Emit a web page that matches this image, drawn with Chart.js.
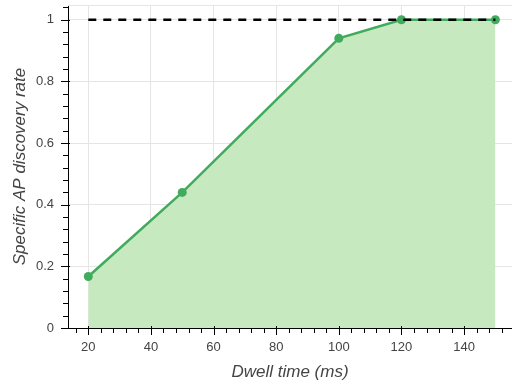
<!DOCTYPE html>
<html lang="en">
<head>
    <meta charset="UTF-8">
    <script src="https://cdn.jsdelivr.net/npm/chart.js"></script>
    <title>Specific AP discovery rate</title>
    <style>
        body { margin: 0; background: #fff; overflow: hidden; }
        canvas { display: block; }
    </style>
</head>
<body>
    <div>
        <canvas id="myChart" width="512" height="386"></canvas>
        <script>
            const dwellTimes = [20, 50, 100, 120, 150];
            const discoveryRate = [0.167, 0.44, 0.94, 1.0, 1.0];
            const referenceRate = 1;
            const xTicks = [20, 40, 60, 80, 100, 120, 140];
            const yTicks = [0, 0.2, 0.4, 0.6, 0.8, 1];

            const font = "'Liberation Sans', Arial, sans-serif";

            // no extra room for label overhang, the frame is fixed
            function noPad(scale) {
                scale.paddingTop = 0;
                scale.paddingBottom = 0;
                scale.paddingLeft = 0;
                scale.paddingRight = 0;
            }

            // bokeh-style frame outline plus major/minor tick marks
            const axisMarks = {
                id: 'axisMarks',
                beforeDatasetsDraw(chart) {
                    const {ctx, chartArea} = chart;
                    ctx.save();
                    ctx.strokeStyle = '#e5e5e5';
                    ctx.lineWidth = 1;
                    ctx.beginPath();
                    ctx.moveTo(chartArea.left, chartArea.top + 0.5);
                    ctx.lineTo(chartArea.right, chartArea.top + 0.5);
                    ctx.stroke();
                    ctx.restore();
                },
                afterDraw(chart) {
                    const {ctx, chartArea, scales} = chart;
                    const x = scales.x, y = scales.y;
                    ctx.save();
                    ctx.strokeStyle = '#000';
                    ctx.lineWidth = 1;
                    ctx.beginPath();
                    for (let v = 16; v <= x.max; v += 4) {
                        const px = Math.round(x.getPixelForValue(v)) + 0.5;
                        const major = v % 20 === 0;
                        ctx.moveTo(px, chartArea.bottom - (major ? 2 : 0));
                        ctx.lineTo(px, chartArea.bottom + (major ? 7 : 5));
                    }
                    for (let i = 0; i * 0.04 <= y.max; i++) {
                        const py = Math.round(y.getPixelForValue(i * 0.04)) + 0.5;
                        const major = i % 5 === 0;
                        ctx.moveTo(chartArea.left + (major ? 2 : 0), py);
                        ctx.lineTo(chartArea.left - (major ? 7 : 5), py);
                    }
                    ctx.stroke();
                    ctx.restore();
                }
            };

            const ctx = document.getElementById('myChart');
            const chart = new Chart(ctx, {
                type: 'line',
                data: {
                    datasets: [{
                        data: [{x: dwellTimes[0], y: referenceRate}, {x: dwellTimes[dwellTimes.length - 1], y: referenceRate}],
                        borderColor: '#000',
                        borderWidth: 2.5,
                        borderDash: [8, 7],
                        pointRadius: 0,
                        fill: false,
                        order: 0
                    }, {
                        data: dwellTimes.map((t, i) => ({x: t, y: discoveryRate[i]})),
                        borderColor: '#41ab5d',
                        backgroundColor: '#c7e9c0',
                        borderWidth: 2.5,
                        pointRadius: 4.5,
                        pointBackgroundColor: '#41ab5d',
                        pointBorderColor: '#41ab5d',
                        pointBorderWidth: 0,
                        fill: 'origin',
                        order: 1
                    }]
                },
                options: {
                    responsive: false,
                    animation: false,
                    devicePixelRatio: 1,
                    layout: { autoPadding: false, padding: { top: 5, right: 0, left: 0, bottom: 0 } },
                    plugins: {
                        legend: { display: false },
                        tooltip: { enabled: false }
                    },
                    scales: {
                        x: {
                            type: 'linear',
                            min: 13.52,
                            max: 155.3,
                            afterFit(scale) { scale.height = 58; noPad(scale); },
                            afterBuildTicks(scale) { scale.ticks = xTicks.map(v => ({value: v})); },
                            grid: { color: '#e5e5e5', drawTicks: false },
                            border: { display: true, color: '#000', width: 1 },
                            ticks: {
                                padding: 12,
                                color: '#444',
                                font: { family: font, size: 13 },
                                autoSkip: false,
                                maxRotation: 0,
                                callback: v => String(v)
                            },
                            title: {
                                display: true,
                                text: 'Dwell time (ms)',
                                color: '#444',
                                font: { family: font, size: 17, style: 'italic' },
                                padding: { top: 0, bottom: 4 }
                            }
                        },
                        y: {
                            min: 0,
                            max: 1.048,
                            afterFit(scale) { scale.width = 68; noPad(scale); },
                            afterBuildTicks(scale) { scale.ticks = yTicks.map(v => ({value: v})); },
                            grid: { color: '#e5e5e5', drawTicks: false },
                            border: { display: true, color: '#000', width: 1 },
                            ticks: {
                                padding: 14,
                                color: '#444',
                                font: { family: font, size: 13 },
                                callback: v => String(v)
                            },
                            title: {
                                display: true,
                                text: 'Specific AP discovery rate',
                                color: '#444',
                                font: { family: font, size: 17, style: 'italic' },
                                padding: { top: 10, bottom: 0 }
                            }
                        }
                    }
                },
                plugins: [axisMarks]
            });
        </script>
    </div>
</body>
</html>
